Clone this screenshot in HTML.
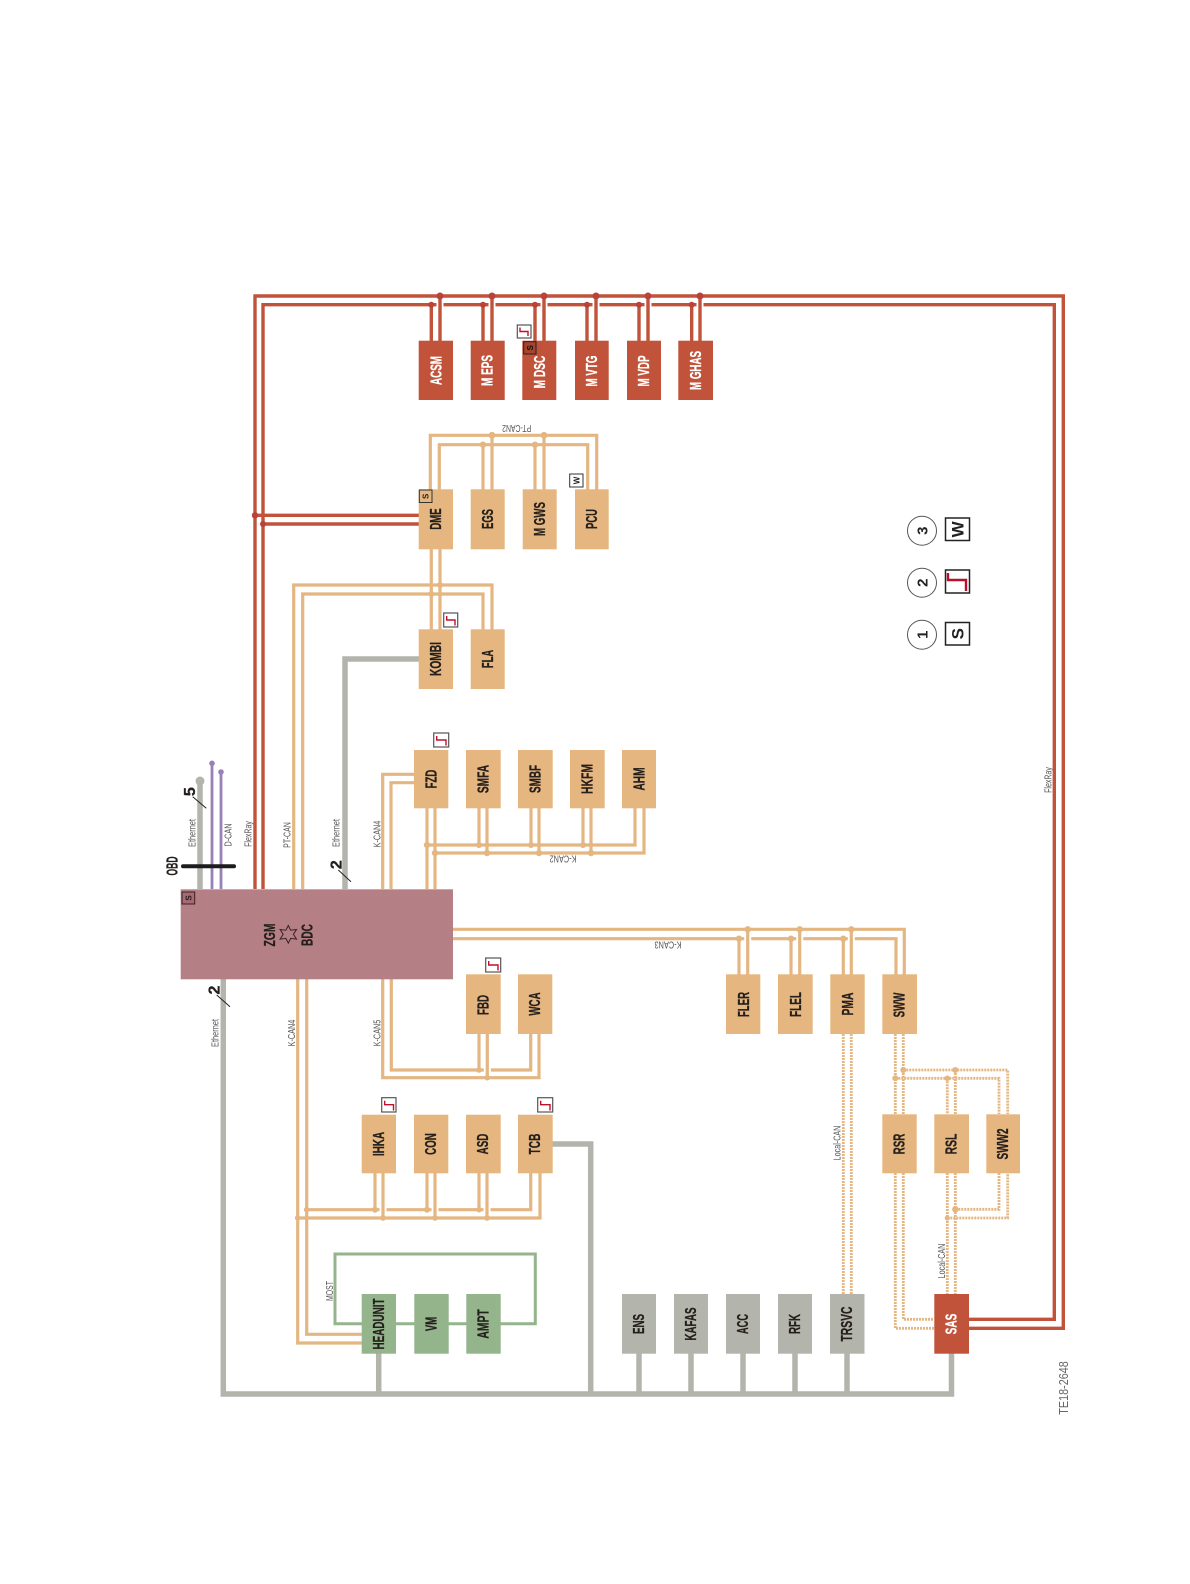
<!DOCTYPE html>
<html><head><meta charset="utf-8"><style>
html,body{margin:0;padding:0;background:#fff}
svg{display:block}
text{font-family:"Liberation Sans",sans-serif}
.n{font-weight:bold;font-size:16px;fill:#241f1c;stroke:#241f1c;stroke-width:.3;text-anchor:middle}
.w{fill:#fff;stroke:#fff}
.l{font-size:10px;fill:#555;text-anchor:middle}
.t{fill:none;stroke:#e4b681;stroke-width:3.2}
.h{fill:none;stroke:#fff;stroke-width:7}
.r{fill:none;stroke:#c1533a;stroke-width:3.4}
.g{fill:none;stroke:#b3b4ac;stroke-width:5.5}
.d{fill:none;stroke:#e4b681;stroke-width:2.8;stroke-dasharray:2 1}
.jt{fill:#e4b681}.jr{fill:#b9423a}
.bt{fill:#e5b680}.br{fill:#c1533a}.bg{fill:#94b48c}.bs{fill:#b3b4ac}
.s{fill:#fff;stroke:#555;stroke-width:1.2}
.st{fill:none;stroke:#c0102c;stroke-width:1.4}
</style></head><body>
<svg width="1190" height="1584" viewBox="0 0 1190 1584" xmlns="http://www.w3.org/2000/svg">
<rect width="1190" height="1584" fill="#fff"/>

<!-- Red frame -->
<path class="r" d="M263 889V304.7H1054.3V1319.3H969"/>
<path class="h" d="M440 300V340M492 300V340M544 300V340M596 300V340M648 300V340M700 300V340"/>
<path class="r" d="M255 889V296H1063.3V1328.3H969"/>
<path class="r" d="M431.3 304.7V341M440 296V341M483 304.7V341M492 296V341M535 304.7V341M544 296V341M587 304.7V341M596 296V341M639 304.7V341M648 296V341M691.7 304.7V341M700 296V341"/>
<path class="r" d="M255 515.3H419M263 524H419"/>
<g class="jr"><circle cx="431.3" cy="304.7" r="3"/><circle cx="440" cy="296" r="3.5"/><circle cx="483" cy="304.7" r="3"/><circle cx="492" cy="296" r="3.5"/><circle cx="535" cy="304.7" r="3"/><circle cx="544" cy="296" r="3.5"/><circle cx="587" cy="304.7" r="3"/><circle cx="596" cy="296" r="3.5"/><circle cx="639" cy="304.7" r="3"/><circle cx="648" cy="296" r="3.5"/><circle cx="691.7" cy="304.7" r="3"/><circle cx="700" cy="296" r="3.5"/><circle cx="255" cy="515.3" r="3.2"/><circle cx="263" cy="524" r="3"/></g>

<!-- PT-CAN2 -->
<path class="t" d="M439.3 490V444.7H587.7V490"/>
<path class="h" d="M492 449V489M544 449V489"/>
<path class="t" d="M430.3 490V435.3H596.7V490M483 444.7V490M535 444.7V490M492 435.3V490M544 435.3V490"/>
<g class="jt"><circle cx="483" cy="444.7" r="3.2"/><circle cx="535" cy="444.7" r="3.2"/><circle cx="492" cy="435.3" r="3.4"/><circle cx="544" cy="435.3" r="3.4"/></g>

<!-- PT-CAN -->
<path class="t" d="M302.7 889V594H483V630"/>
<path class="h" d="M440 597V629"/>
<path class="t" d="M293.7 889V585H492V630"/>
<path class="t" d="M431.3 549V630M440 549V630"/>
<g class="jt"><circle cx="431.3" cy="594" r="3"/><circle cx="440" cy="585" r="3"/></g>

<!-- K-CAN2 and FZD -->
<path class="t" d="M414 774.3H382.7V889M414 782.7H391V889"/>
<path class="t" d="M427 808V889M435 808V889"/>
<path class="t" d="M427 845H635V808M435 853H644V808"/>
<path class="t" d="M479 808V845M487 808V853M531 808V845M539 808V853M583 808V845M591 808V853"/>
<g class="jt"><circle cx="427" cy="845" r="3.2"/><circle cx="435" cy="853" r="3.2"/><circle cx="479" cy="845" r="3"/><circle cx="487" cy="853" r="3.2"/><circle cx="531" cy="845" r="3"/><circle cx="539" cy="853" r="3.2"/><circle cx="583" cy="845" r="3"/><circle cx="591" cy="853" r="3.2"/></g>

<!-- K-CAN3 -->
<path class="t" d="M453 938.7H896V975"/>
<path class="h" d="M747.7 933V974M799.7 933V974M851.3 933V974"/>
<path class="t" d="M453 929.3H904.3V975"/>
<path class="t" d="M739 938.7V975M747.7 929.3V975M791 938.7V975M799.7 929.3V975M843.3 938.7V975M851.3 929.3V975"/>
<g class="jt"><circle cx="739" cy="938.7" r="3.2"/><circle cx="791" cy="938.7" r="3.2"/><circle cx="843.3" cy="938.7" r="3.2"/><circle cx="747.7" cy="929.3" r="3.2"/><circle cx="799.7" cy="929.3" r="3.2"/><circle cx="851.3" cy="929.3" r="3.2"/></g>

<!-- K-CAN5 -->
<path class="t" d="M391.3 979V1070H530.7V1034"/>
<path class="h" d="M487.3 1035V1073"/>
<path class="t" d="M382.7 979V1077.7H539V1034M479 1034V1070M487.3 1034V1077.7"/>
<g class="jt"><circle cx="479" cy="1070" r="2.8"/><circle cx="487.3" cy="1077.7" r="2.8"/></g>

<!-- K-CAN4 lower -->
<path class="t" d="M306.7 979V1334.3H362M306.7 1209.7H530.7V1173"/>
<path class="h" d="M383 1174V1214M435 1174V1214M487 1174V1214"/>
<path class="t" d="M297.7 979V1343H362M297.7 1218H540V1173"/>
<path class="t" d="M375 1173V1209.7M383 1173V1218M427 1173V1209.7M435 1173V1218M479 1173V1209.7M487 1173V1218"/>
<g class="jt"><circle cx="306.7" cy="1209.7" r="2.8"/><circle cx="375" cy="1209.7" r="3"/><circle cx="427" cy="1209.7" r="3"/><circle cx="479" cy="1209.7" r="2.8"/><circle cx="297.7" cy="1218" r="2.8"/><circle cx="383" cy="1218" r="2.8"/><circle cx="435" cy="1218" r="2.8"/><circle cx="487" cy="1218" r="2.8"/></g>

<!-- MOST -->
<path fill="none" stroke="#94b48c" stroke-width="3" d="M362 1323.7H335V1254H535.3V1323.7H500M396 1323.7H415M448 1323.7H467"/>

<!-- Grey ethernet -->
<path class="g" d="M223.3 979V1394H951.5V1353"/>
<path class="g" d="M378.7 1353V1394M639 1353V1394M691 1353V1394M743 1353V1394M795 1353V1394M847 1353V1394"/>
<path class="g" d="M552 1144H590.7V1394"/>
<path class="g" d="M345 889V659H419"/>
<path class="g" d="M200 889V781"/>
<circle cx="200" cy="781" r="4.5" fill="#b3b4ac"/>
<path fill="none" stroke="#9a80b8" stroke-width="2.8" d="M212 889V763.3M221 889V772"/>
<circle cx="212" cy="763.3" r="2.8" fill="#9a80b8"/><circle cx="221" cy="772" r="2.8" fill="#9a80b8"/>
<path stroke="#1c1c1c" stroke-width="4" stroke-linecap="round" d="M183 866.3H234"/>

<!-- Slashes -->
<path stroke="#222" stroke-width="1" d="M192.7 796.7L206.3 808.3M338.3 870L351 881.7M216.7 995L230 1006.7"/>

<!-- Dotted local CAN -->
<path class="d" d="M843.3 1034V1294M851.3 1034V1294"/>
<path class="d" d="M895.3 1034V1114M903.3 1034V1114"/>
<path class="d" d="M903.3 1070H1007.7V1114M895.3 1078.3H999V1114"/>
<path class="d" d="M947.3 1078.3V1114M955.3 1070V1114"/>
<path class="d" d="M895.3 1173V1328.3H934M903.3 1173V1319.3H934"/>
<path class="d" d="M947.3 1173V1294M955.3 1173V1294"/>
<path class="d" d="M955.3 1209.3H999V1173M947.3 1218H1007.7V1173"/>
<g class="jt"><circle cx="903.3" cy="1070" r="3"/><circle cx="955.3" cy="1070" r="3"/><circle cx="895.3" cy="1078.3" r="3"/><circle cx="947.3" cy="1078.3" r="2.8"/><circle cx="955.3" cy="1209.3" r="3.2"/><circle cx="947.3" cy="1218" r="2.6"/></g>

<!-- ZGM -->
<rect x="180.7" y="889.3" width="272.3" height="90" fill="#b58085"/>
<polygon points="288.3,925.5 290.7,930.2 296.5,929.5 293.4,934.3 296.5,939.1 290.7,938.4 288.3,943.1 285.9,938.4 280.1,939.1 283.2,934.3 280.1,929.5 285.9,930.2" fill="none" stroke="#3a2026" stroke-width="1"/>
<rect x="182" y="892" width="12.7" height="12" fill="#a56a72" stroke="#3a2026" stroke-width="1"/>
<text transform="translate(188.3 898) rotate(-90)" y="3" font-size="8" font-weight="bold" fill="#2a1a1e" text-anchor="middle">S</text>
<text class="n" transform="translate(270 935) rotate(-90)" y="5" textLength="23" lengthAdjust="spacingAndGlyphs">ZGM</text>
<text class="n" transform="translate(307.3 935) rotate(-90)" y="5" textLength="22" lengthAdjust="spacingAndGlyphs">BDC</text>

<!-- Red boxes -->
<g class="br">
<rect x="418.7" y="340.7" width="34.3" height="59.3"/><rect x="470.7" y="340.7" width="34" height="59.3"/><rect x="522.3" y="340.7" width="34" height="59.3"/><rect x="575" y="340.7" width="33.7" height="59.3"/><rect x="627" y="340.7" width="34" height="59.3"/><rect x="678.3" y="340.7" width="34.7" height="59.3"/>
<rect x="934.3" y="1294" width="34.7" height="59.7"/>
</g>
<!-- Tan boxes -->
<g class="bt">
<rect x="418.7" y="489.3" width="34.3" height="60"/><rect x="470.7" y="489.3" width="34" height="60"/><rect x="522.7" y="489.3" width="34" height="60"/><rect x="575" y="489.3" width="33.7" height="60"/>
<rect x="418.7" y="629.3" width="34.3" height="59.7"/><rect x="470.7" y="629.3" width="34" height="59.7"/>
<rect x="414" y="750" width="34.3" height="58.3"/><rect x="466" y="750" width="34.7" height="58.3"/><rect x="518" y="750" width="34.7" height="58.3"/><rect x="570" y="750" width="34.7" height="58.3"/><rect x="622" y="750" width="34" height="58.3"/>
<rect x="466" y="974.3" width="34.7" height="59.7"/><rect x="518" y="974.3" width="34.3" height="59.7"/>
<rect x="726" y="974.3" width="34.3" height="59.7"/><rect x="778" y="974.3" width="34.7" height="59.7"/><rect x="830.3" y="974.3" width="34.4" height="59.7"/><rect x="882.3" y="974.3" width="34.7" height="59.7"/>
<rect x="361.7" y="1114.7" width="34.3" height="58.6"/><rect x="414" y="1114.7" width="34.3" height="58.6"/><rect x="466" y="1114.7" width="34.7" height="58.6"/><rect x="518" y="1114.7" width="34.7" height="58.6"/>
<rect x="882.3" y="1114.3" width="34.4" height="59"/><rect x="934.3" y="1114.3" width="34.7" height="59"/><rect x="986.3" y="1114.3" width="33.7" height="59"/>
</g>
<!-- Green boxes -->
<g class="bg"><rect x="361.7" y="1294" width="34.3" height="59.7"/><rect x="414.3" y="1294" width="34.4" height="59.7"/><rect x="466.3" y="1294" width="34.4" height="59.7"/></g>
<!-- Grey boxes -->
<g class="bs"><rect x="622" y="1294" width="34" height="59.7"/><rect x="674" y="1294" width="34" height="59.7"/><rect x="726" y="1294" width="34" height="59.7"/><rect x="778" y="1294" width="34" height="59.7"/><rect x="830" y="1294" width="34.5" height="59.7"/></g>

<!-- Box labels -->
<g>
<text class="n w" transform="translate(436.5 370.5) rotate(-90)" y="5" textLength="29" lengthAdjust="spacingAndGlyphs">ACSM</text>
<text class="n w" transform="translate(487.7 370.5) rotate(-90)" y="5" textLength="31" lengthAdjust="spacingAndGlyphs">M EPS</text>
<text class="n w" transform="translate(540 372) rotate(-90)" y="5" textLength="32.7" lengthAdjust="spacingAndGlyphs">M DSC</text>
<text class="n w" transform="translate(592 371) rotate(-90)" y="5" textLength="31" lengthAdjust="spacingAndGlyphs">M VTG</text>
<text class="n w" transform="translate(644 371) rotate(-90)" y="5" textLength="31" lengthAdjust="spacingAndGlyphs">M VDP</text>
<text class="n w" transform="translate(696 370.5) rotate(-90)" y="5" textLength="39" lengthAdjust="spacingAndGlyphs">M GHAS</text>
<text class="n w" transform="translate(951.5 1324) rotate(-90)" y="5" textLength="20.7" lengthAdjust="spacingAndGlyphs">SAS</text>

<text class="n" transform="translate(436 519) rotate(-90)" y="5" textLength="21.3" lengthAdjust="spacingAndGlyphs">DME</text>
<text class="n" transform="translate(488 519) rotate(-90)" y="5" textLength="20" lengthAdjust="spacingAndGlyphs">EGS</text>
<text class="n" transform="translate(540 519) rotate(-90)" y="5" textLength="34" lengthAdjust="spacingAndGlyphs">M GWS</text>
<text class="n" transform="translate(592 519) rotate(-90)" y="5" textLength="20" lengthAdjust="spacingAndGlyphs">PCU</text>
<text class="n" transform="translate(436 659) rotate(-90)" y="5" textLength="34" lengthAdjust="spacingAndGlyphs">KOMBI</text>
<text class="n" transform="translate(488 659) rotate(-90)" y="5" textLength="18.3" lengthAdjust="spacingAndGlyphs">FLA</text>
<text class="n" transform="translate(431.5 779) rotate(-90)" y="5" textLength="18.7" lengthAdjust="spacingAndGlyphs">FZD</text>
<text class="n" transform="translate(483.5 779) rotate(-90)" y="5" textLength="28.3" lengthAdjust="spacingAndGlyphs">SMFA</text>
<text class="n" transform="translate(535.5 779) rotate(-90)" y="5" textLength="28" lengthAdjust="spacingAndGlyphs">SMBF</text>
<text class="n" transform="translate(587.5 779) rotate(-90)" y="5" textLength="30" lengthAdjust="spacingAndGlyphs">HKFM</text>
<text class="n" transform="translate(639.5 779) rotate(-90)" y="5" textLength="23" lengthAdjust="spacingAndGlyphs">AHM</text>
<text class="n" transform="translate(483.5 1005) rotate(-90)" y="5" textLength="20" lengthAdjust="spacingAndGlyphs">FBD</text>
<text class="n" transform="translate(535 1004) rotate(-90)" y="5" textLength="23.3" lengthAdjust="spacingAndGlyphs">WCA</text>
<text class="n" transform="translate(744 1004.5) rotate(-90)" y="5" textLength="25" lengthAdjust="spacingAndGlyphs">FLER</text>
<text class="n" transform="translate(796 1004.5) rotate(-90)" y="5" textLength="25" lengthAdjust="spacingAndGlyphs">FLEL</text>
<text class="n" transform="translate(848 1004) rotate(-90)" y="5" textLength="23" lengthAdjust="spacingAndGlyphs">PMA</text>
<text class="n" transform="translate(899.5 1005) rotate(-90)" y="5" textLength="24.7" lengthAdjust="spacingAndGlyphs">SWW</text>
<text class="n" transform="translate(379 1144) rotate(-90)" y="5" textLength="24.3" lengthAdjust="spacingAndGlyphs">IHKA</text>
<text class="n" transform="translate(431 1144) rotate(-90)" y="5" textLength="21.7" lengthAdjust="spacingAndGlyphs">CON</text>
<text class="n" transform="translate(483 1144) rotate(-90)" y="5" textLength="20.7" lengthAdjust="spacingAndGlyphs">ASD</text>
<text class="n" transform="translate(535 1144) rotate(-90)" y="5" textLength="20.7" lengthAdjust="spacingAndGlyphs">TCB</text>
<text class="n" transform="translate(899.5 1144) rotate(-90)" y="5" textLength="20.7" lengthAdjust="spacingAndGlyphs">RSR</text>
<text class="n" transform="translate(951.5 1144) rotate(-90)" y="5" textLength="20.7" lengthAdjust="spacingAndGlyphs">RSL</text>
<text class="n" transform="translate(1003 1144) rotate(-90)" y="5" textLength="31" lengthAdjust="spacingAndGlyphs">SWW2</text>
<text class="n" transform="translate(379 1324) rotate(-90)" y="5" textLength="51" lengthAdjust="spacingAndGlyphs">HEADUNIT</text>
<text class="n" transform="translate(431.5 1324) rotate(-90)" y="5" textLength="14.3" lengthAdjust="spacingAndGlyphs">VM</text>
<text class="n" transform="translate(483.5 1324) rotate(-90)" y="5" textLength="29.3" lengthAdjust="spacingAndGlyphs">AMPT</text>
<text class="n" transform="translate(639 1324) rotate(-90)" y="5" textLength="20" lengthAdjust="spacingAndGlyphs">ENS</text>
<text class="n" transform="translate(691 1324) rotate(-90)" y="5" textLength="33" lengthAdjust="spacingAndGlyphs">KAFAS</text>
<text class="n" transform="translate(743 1324) rotate(-90)" y="5" textLength="20" lengthAdjust="spacingAndGlyphs">ACC</text>
<text class="n" transform="translate(795 1324) rotate(-90)" y="5" textLength="20" lengthAdjust="spacingAndGlyphs">RFK</text>
<text class="n" transform="translate(847 1324) rotate(-90)" y="5" textLength="35" lengthAdjust="spacingAndGlyphs">TRSVC</text>
</g>

<!-- Small labels -->
<text class="l" transform="translate(192 833) rotate(-90)" y="3.5" textLength="28" lengthAdjust="spacingAndGlyphs">Ethernet</text>
<text class="l" transform="translate(228 835) rotate(-90)" y="3.5" textLength="23" lengthAdjust="spacingAndGlyphs">D-CAN</text>
<text class="l" transform="translate(248 834) rotate(-90)" y="3.5" textLength="25.7" lengthAdjust="spacingAndGlyphs">FlexRay</text>
<text class="l" transform="translate(287 835) rotate(-90)" y="3.5" textLength="25.7" lengthAdjust="spacingAndGlyphs">PT-CAN</text>
<text class="l" transform="translate(336 833) rotate(-90)" y="3.5" textLength="28" lengthAdjust="spacingAndGlyphs">Ethernet</text>
<text class="l" transform="translate(377 834) rotate(-90)" y="3.5" textLength="26.7" lengthAdjust="spacingAndGlyphs">K-CAN4</text>
<text class="l" transform="translate(215 1033) rotate(-90)" y="3.5" textLength="28" lengthAdjust="spacingAndGlyphs">Ethernet</text>
<text class="l" transform="translate(291.7 1033) rotate(-90)" y="3.5" textLength="26.7" lengthAdjust="spacingAndGlyphs">K-CAN4</text>
<text class="l" transform="translate(377 1033) rotate(-90)" y="3.5" textLength="26.7" lengthAdjust="spacingAndGlyphs">K-CAN5</text>
<text class="l" transform="translate(837 1143) rotate(-90)" y="3.5" textLength="34.7" lengthAdjust="spacingAndGlyphs">Local-CAN</text>
<text class="l" transform="translate(941.7 1261) rotate(-90)" y="3.5" textLength="34.7" lengthAdjust="spacingAndGlyphs">Local-CAN</text>
<text class="l" transform="translate(329.3 1291) rotate(-90)" y="3.5" textLength="20" lengthAdjust="spacingAndGlyphs">MOST</text>
<text class="l" transform="translate(1048 780) rotate(-90)" y="3.5" textLength="25.7" lengthAdjust="spacingAndGlyphs">FlexRay</text>
<text class="l" transform="translate(516.7 428.3) rotate(180)" y="3.5" textLength="29" lengthAdjust="spacingAndGlyphs">PT-CAN2</text>
<text class="l" transform="translate(563 859) rotate(180)" y="3.5" textLength="27" lengthAdjust="spacingAndGlyphs">K-CAN2</text>
<text class="l" transform="translate(668 945) rotate(180)" y="3.5" textLength="27" lengthAdjust="spacingAndGlyphs">K-CAN3</text>
<text transform="translate(1064 1388) rotate(-90)" y="4" font-size="13" fill="#666" text-anchor="middle" textLength="53.5" lengthAdjust="spacingAndGlyphs">TE18-2648</text>

<!-- Bold numbers -->
<text class="n" transform="translate(172.3 866) rotate(-90)" y="5" textLength="19" lengthAdjust="spacingAndGlyphs">OBD</text>
<text class="n" transform="translate(190 791.7) rotate(-90)" y="5" font-size="14">5</text>
<text class="n" transform="translate(336.7 864.7) rotate(-90)" y="5" font-size="14">2</text>
<text class="n" transform="translate(214.3 990) rotate(-90)" y="5" font-size="14">2</text>

<!-- Badges S / W -->
<rect x="419.3" y="490" width="12.7" height="12.5" fill="#e5b680" stroke="#333" stroke-width="1"/>
<text transform="translate(425.7 496.3) rotate(-90)" y="3" font-size="8" font-weight="bold" fill="#222" text-anchor="middle">S</text>
<rect x="569.7" y="474" width="13.3" height="13" fill="#fff" stroke="#333" stroke-width="1"/>
<text transform="translate(576.3 480.5) rotate(-90)" y="3" font-size="8" font-weight="bold" fill="#222" text-anchor="middle">W</text>
<rect x="523.7" y="341.7" width="12.3" height="12.3" fill="#a8442e" stroke="#222" stroke-width="1"/>
<text transform="translate(529.8 347.8) rotate(-90)" y="3" font-size="8" font-weight="bold" fill="#111" text-anchor="middle">S</text>

<!-- Step badges -->
<g><rect class="s" x="517.3" y="325" width="13.7" height="13"/><path class="st" d="M520 327.5V331.5H528V336"/></g>
<g><rect class="s" x="443.7" y="613" width="14" height="14"/><path class="st" d="M446.7 616V620H455V625.5"/></g>
<g><rect class="s" x="433.7" y="733" width="15" height="14"/><path class="st" d="M436.7 736V740H446V745.5"/></g>
<g><rect class="s" x="485.7" y="958" width="15" height="14"/><path class="st" d="M488.7 961V965H498V970.5"/></g>
<g><rect class="s" x="381.7" y="1097.7" width="14.3" height="14.3"/><path class="st" d="M384.7 1100.7V1104.7H393.5V1110.5"/></g>
<g><rect class="s" x="537.7" y="1097.7" width="15" height="14.3"/><path class="st" d="M540.7 1100.7V1104.7H550V1110.5"/></g>

<!-- Legend -->
<g fill="#fff" stroke="#555" stroke-width="1"><circle cx="922" cy="530.7" r="14.5"/><circle cx="922" cy="582.7" r="14.5"/><circle cx="922" cy="634.7" r="14.5"/></g>
<text transform="translate(922 530.7) rotate(-90)" y="5.5" font-size="15" font-weight="bold" fill="#222" text-anchor="middle">3</text>
<text transform="translate(922 582.7) rotate(-90)" y="5.5" font-size="15" font-weight="bold" fill="#222" text-anchor="middle">2</text>
<text transform="translate(922 634.7) rotate(-90)" y="5.5" font-size="15" font-weight="bold" fill="#222" text-anchor="middle">1</text>
<g fill="#fff" stroke="#222" stroke-width="1.5"><rect x="945.5" y="518" width="24" height="22.5"/><rect x="945.5" y="570" width="24" height="23"/><rect x="945.5" y="622.5" width="24" height="22.5"/></g>
<text transform="translate(957.5 529.3) rotate(-90)" y="6" font-size="17" font-weight="bold" fill="#222" text-anchor="middle">W</text>
<text transform="translate(957.5 633.7) rotate(-90)" y="6" font-size="17" font-weight="bold" fill="#222" text-anchor="middle">S</text>
<path fill="none" stroke="#b8102c" stroke-width="2.4" d="M948 573V580H966V591"/>
</svg>
</body></html>
